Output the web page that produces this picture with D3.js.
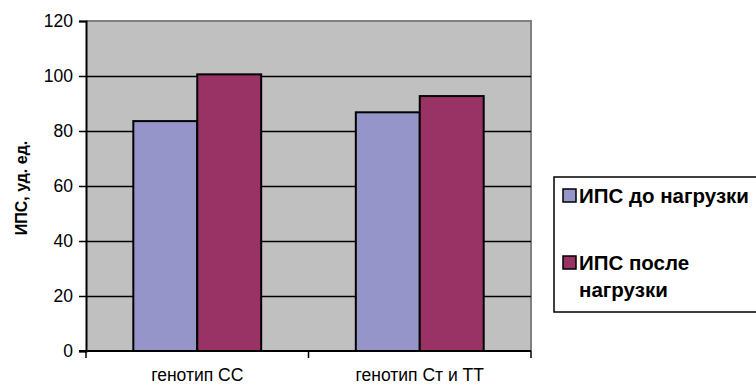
<!DOCTYPE html>
<html>
<head>
<meta charset="utf-8">
<script src="https://cdn.jsdelivr.net/npm/d3@7"></script>
<style>
  html, body { margin: 0; padding: 0; background: #fff; }
  svg { display: block; font-family: "Liberation Sans", Arial, sans-serif; }
</style>
</head>
<body>
<svg id="chart" width="756" height="385"></svg>
<script>
// Genotype groups and the two measurement series
const categories = ["генотип СС", "генотип Ст и ТТ"];
const seriesNames = ["ИПС до нагрузки", "ИПС после нагрузки"];
const beforeLoad = [83.6, 86.8];
const afterLoad = [100.6, 92.7];
const yTicks = [0, 20, 40, 60, 80, 100, 120];
const colors = ["#9595c9", "#993366"];

const svg = d3.select("#chart");
const plot = { left: 86, right: 531, top: 21, bottom: 351 };

const y = d3.scaleLinear().domain([0, 120]).range([plot.bottom, plot.top]);
const x0 = d3.scaleBand().domain(categories).range([plot.left, plot.right]).padding(0);
const x1 = d3.scaleBand().domain(seriesNames).range([0, x0.bandwidth()])
  .paddingInner(0).paddingOuter(0.74);

// plot background
svg.append("rect")
  .attr("x", plot.left).attr("y", plot.top)
  .attr("width", plot.right - plot.left).attr("height", plot.bottom - plot.top)
  .attr("fill", "#c0c0c0");

// top and right frame
svg.append("path")
  .attr("d", `M${plot.left},${plot.top}H${plot.right}V${plot.bottom}`)
  .attr("fill", "none").attr("stroke", "#808080").attr("stroke-width", 2);

// horizontal gridlines
svg.append("g").selectAll("line")
  .data(yTicks.filter(d => d > 0 && d < 120))
  .join("line")
  .attr("x1", plot.left).attr("x2", plot.right)
  .attr("y1", d => Math.round(y(d)) + 0.5).attr("y2", d => Math.round(y(d)) + 0.5)
  .attr("stroke", "#000").attr("stroke-width", 1.5);

// bars
const rows = categories.map((c, i) => ({ cat: c, vals: [beforeLoad[i], afterLoad[i]] }));
svg.append("g").selectAll("g")
  .data(rows)
  .join("g")
  .attr("transform", d => `translate(${x0(d.cat)},0)`)
  .selectAll("rect")
  .data(d => d.vals.map((v, j) => ({ s: seriesNames[j], v, j })))
  .join("rect")
  .attr("x", d => x1(d.s))
  .attr("y", d => y(d.v))
  .attr("width", x1.bandwidth())
  .attr("height", d => plot.bottom - y(d.v))
  .attr("fill", d => colors[d.j])
  .attr("stroke", "#000").attr("stroke-width", 2);

// y axis
const yAxis = svg.append("g")
  .attr("transform", `translate(${plot.left},0)`)
  .call(d3.axisLeft(y).tickValues(yTicks).tickSize(7).tickPadding(6));
yAxis.select(".domain").attr("stroke", "#000").attr("stroke-width", 2);
yAxis.selectAll(".tick line").attr("stroke", "#000").attr("stroke-width", 1.5);
yAxis.selectAll(".tick text").attr("font-size", 17.5).attr("fill", "#000")
  .attr("font-family", "Liberation Sans, Arial, sans-serif");

// x axis: ticks at category boundaries
const xAxisG = svg.append("g").attr("transform", `translate(0,${plot.bottom})`);
xAxisG.append("line")
  .attr("x1", plot.left - 7).attr("x2", plot.right)
  .attr("stroke", "#000").attr("stroke-width", 2);
const boundaries = categories.map(c => x0(c)).concat([x0(categories[categories.length - 1]) + x0.bandwidth()]);
xAxisG.selectAll("line.tk")
  .data(boundaries)
  .join("line").attr("class", "tk")
  .attr("x1", d => d).attr("x2", d => d)
  .attr("y1", 0).attr("y2", 7)
  .attr("stroke", "#000").attr("stroke-width", 1.5);
xAxisG.selectAll("text")
  .data(categories)
  .join("text")
  .attr("x", d => x0(d) + x0.bandwidth() / 2)
  .attr("y", 30)
  .attr("text-anchor", "middle")
  .attr("font-size", 17.5)
  .text(d => d);

// y axis title
svg.append("text")
  .attr("transform", `translate(27,${(plot.top + plot.bottom) / 2 + 2}) rotate(-90)`)
  .attr("text-anchor", "middle")
  .attr("font-size", 16).attr("font-weight", "bold")
  .text("ИПС, уд. ед.");

// legend
const legend = svg.append("g");
legend.append("rect")
  .attr("x", 554).attr("y", 177).attr("width", 220).attr("height", 135)
  .attr("fill", "#fff").attr("stroke", "#000").attr("stroke-width", 1.5);
const legendItems = [
  { lines: ["ИПС до нагрузки"], sy: 189 },
  { lines: ["ИПС после", "нагрузки"], sy: 256 }
];
legendItems.forEach((it, i) => {
  legend.append("rect")
    .attr("x", 563).attr("y", it.sy).attr("width", 13).attr("height", 13)
    .attr("fill", colors[i]).attr("stroke", "#000").attr("stroke-width", 1.5);
  const t = legend.append("text")
    .attr("x", 579).attr("y", it.sy + 14)
    .attr("font-size", 20.5).attr("font-weight", "bold");
  it.lines.forEach((l, k) => {
    t.append("tspan").attr("x", 579).attr("dy", k === 0 ? 0 : 27).text(l);
  });
});
</script>
</body>
</html>
